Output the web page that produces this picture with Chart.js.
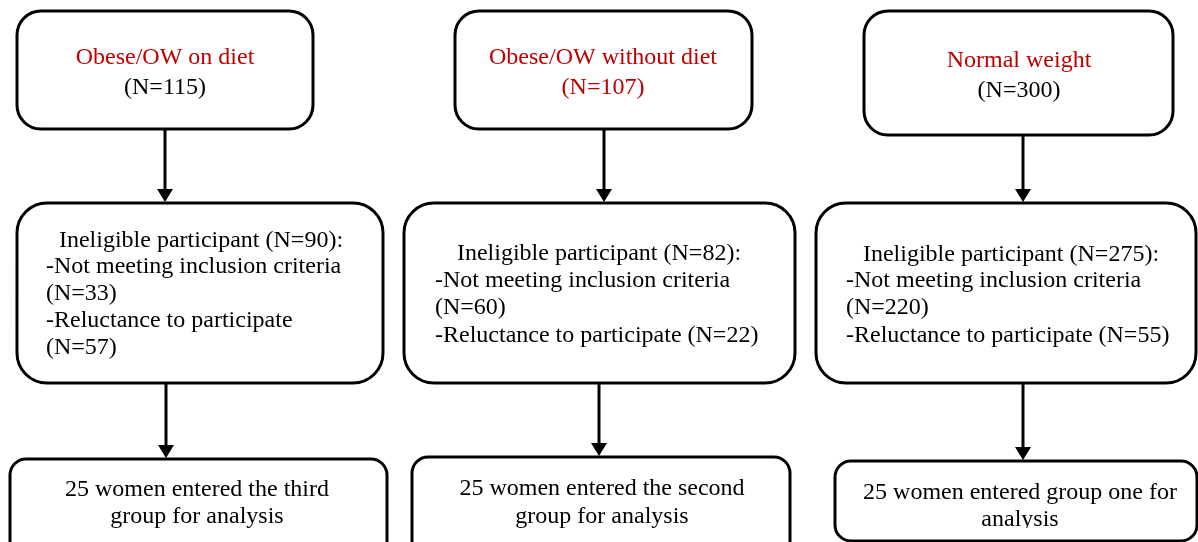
<!DOCTYPE html>
<html>
<head>
<meta charset="utf-8">
<script src="https://cdn.jsdelivr.net/npm/chart.js@4.4.1/dist/chart.umd.min.js"></script>
<style>
  html, body { margin: 0; padding: 0; background: #fff; }
  #wrap { width: 1198px; height: 542px; position: relative; }
</style>
</head>
<body>
<div id="wrap"><canvas id="flowChart"></canvas></div>
<script>
// --- data ---
const groupNames = ['Obese/OW on diet', 'Obese/OW without diet', 'Normal weight'];
const groupTotal = [115, 107, 300];
const ineligible = [90, 82, 275];
const notMeeting = [33, 60, 220];
const reluctant = [57, 22, 55];
const analysed = [25, 25, 25];
const groupLabel = ['the third group', 'the second group', 'group one'];

// --- layout (in scale units, x 0..1198, y 0..542 top-down) ---
const topBoxes = [[17, 11, 313, 129], [455, 11, 752, 129], [864, 11, 1173, 135]];
const midBoxes = [[17, 203, 383, 383], [404, 203, 795, 383], [816, 203, 1196, 383]];
const botBoxes = [[10, 459, 387, 570], [412, 457, 790, 570], [835, 461, 1197, 541]];
const arrows = [[165, 129, 203], [166, 383, 459], [604, 129, 203], [599, 383, 457], [1023, 135, 203], [1023, 383, 461]];

const RED = '#c00000';
const FONT = '24px "Liberation Serif", "Times New Roman", serif';

// text blocks: [text, x, baseline, align, color, clipY]
function buildTexts() {
    const t = [];
    const topX = [165, 603, 1019], topY = [[64, 94], [64, 94], [67, 97]];
    const nColor = ['#000', RED, '#000'];
    groupNames.forEach((g, i) => {
        t.push([g, topX[i], topY[i][0], 'center', RED]);
        t.push(['(N=' + groupTotal[i] + ')', topX[i], topY[i][1], 'center', nColor[i]]);
    });

    // middle boxes
    t.push(['Ineligible participant (N=' + ineligible[0] + '):', 201, 247, 'center', '#000']);
    t.push(['-Not meeting inclusion criteria', 46, 273, 'left', '#000']);
    t.push(['(N=' + notMeeting[0] + ')', 46, 300, 'left', '#000']);
    t.push(['-Reluctance to participate', 46, 327, 'left', '#000']);
    t.push(['(N=' + reluctant[0] + ')', 46, 354, 'left', '#000']);

    const midCX = [null, 599, 1011], midLX = [null, 435, 846], midY = [null, 260, 261];
    for (let i = 1; i < 3; i++) {
        t.push(['Ineligible participant (N=' + ineligible[i] + '):', midCX[i], midY[i], 'center', '#000']);
        t.push(['-Not meeting inclusion criteria', midLX[i], 287, 'left', '#000']);
        t.push(['(N=' + notMeeting[i] + ')', midLX[i], 314, 'left', '#000']);
        t.push(['-Reluctance to participate (N=' + reluctant[i] + ')', midLX[i], 342, 'left', '#000']);
    }

    // bottom boxes
    t.push([analysed[0] + ' women entered ' + groupLabel[0].replace(' group', ''), 197, 496, 'center', '#000']);
    t.push(['group for analysis', 197, 523, 'center', '#000']);
    t.push([analysed[1] + ' women entered ' + groupLabel[1].replace(' group', ''), 602, 495, 'center', '#000']);
    t.push(['group for analysis', 602, 523, 'center', '#000']);
    t.push([analysed[2] + ' women entered ' + groupLabel[2] + ' for', 1020, 499, 'center', '#000']);
    t.push(['analysis', 1020, 526, 'center', '#000', 528]);
    return t;
}

const flowPlugin = {
    id: 'flow',
    afterDraw(chart) {
        const ctx = chart.ctx;
        const xs = chart.scales.x, ys = chart.scales.y;
        const px = v => xs.getPixelForValue(v);
        const py = v => ys.getPixelForValue(v);

        ctx.save();
        ctx.strokeStyle = '#000';
        ctx.lineWidth = 3;

        const drawBox = (b, r) => {
            const x1 = px(b[0]), y1 = py(b[1]), x2 = px(b[2]), y2 = py(b[3]);
            ctx.beginPath();
            ctx.roundRect(x1, y1, x2 - x1, y2 - y1, r);
            ctx.stroke();
        };
        topBoxes.forEach(b => drawBox(b, 24));
        midBoxes.forEach(b => drawBox(b, 30));
        botBoxes.forEach(b => drawBox(b, 16));

        // arrows
        arrows.forEach(a => {
            const x = px(a[0]), y1 = py(a[1]), y2 = py(a[2]);
            ctx.beginPath();
            ctx.moveTo(x, y1);
            ctx.lineTo(x, y2 - 12);
            ctx.stroke();
            ctx.beginPath();
            ctx.moveTo(x - 8, y2 - 14);
            ctx.lineTo(x + 8, y2 - 14);
            ctx.lineTo(x, y2 - 1);
            ctx.closePath();
            ctx.fillStyle = '#000';
            ctx.fill();
        });

        // texts
        ctx.font = FONT;
        ctx.textBaseline = 'alphabetic';
        buildTexts().forEach(tx => {
            ctx.save();
            if (tx[5]) {
                ctx.beginPath();
                ctx.rect(0, 0, chart.width, py(tx[5]));
                ctx.clip();
            }
            ctx.fillStyle = tx[4];
            ctx.textAlign = tx[3];
            ctx.fillText(tx[0], px(tx[1]), py(tx[2]));
            ctx.restore();
        });
        ctx.restore();
    }
};

new Chart(document.getElementById('flowChart'), {
    type: 'scatter',
    data: { datasets: [{ data: [] }] },
    options: {
        responsive: true,
        maintainAspectRatio: false,
        animation: false,
        layout: { padding: 0 },
        plugins: { legend: { display: false }, tooltip: { enabled: false } },
        scales: {
            x: { type: 'linear', min: 0, max: 1198, display: false },
            y: { type: 'linear', min: 0, max: 542, reverse: true, display: false }
        }
    },
    plugins: [flowPlugin]
});
</script>
</body>
</html>
